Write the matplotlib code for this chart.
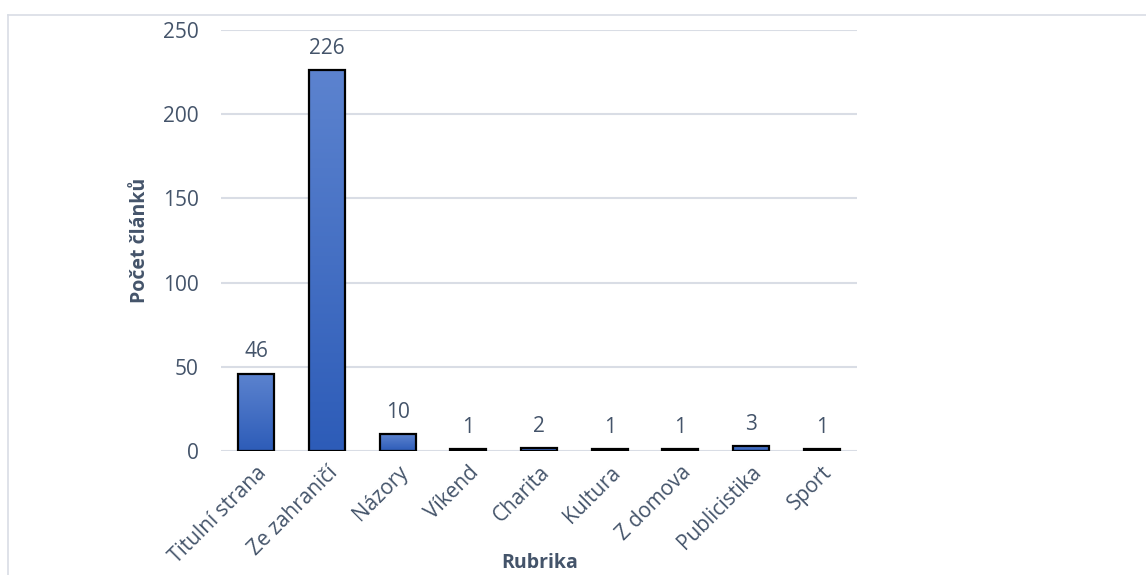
import matplotlib.pyplot as plt
import numpy as np
from matplotlib.colors import LinearSegmentedColormap
from matplotlib.lines import Line2D

# Data
categories = ["Titulní strana", "Ze zahraničí", "Názory", "Víkend", "Charita",
              "Kultura", "Z domova", "Publicistika", "Sport"]
counts = [46, 226, 10, 1, 2, 1, 1, 3, 1]
y_ticks = [0, 50, 100, 150, 200, 250]

plt.rcParams['font.family'] = ['Open Sans', 'DejaVu Sans']
text_col = '#44546A'
grid_col = '#D9DDE5'

W, H = 1146, 575
fig = plt.figure(figsize=(W / 100, H / 100), dpi=100)
ax = fig.add_axes([221 / W, 1 - 451 / H, (857 - 221) / W, (451 - 30) / H])

x = np.arange(len(categories))
bars = ax.bar(x, counts, width=0.51, color='none', edgecolor='black', linewidth=1.6, zorder=3)

# gradient fill for each bar
cmap = LinearSegmentedColormap.from_list('g', ['#2D5CB8', '#5C83CF'])
grad = np.linspace(0, 1, 256).reshape(-1, 1)
for b in bars:
    x0, y0 = b.get_x(), b.get_y()
    w, h = b.get_width(), b.get_height()
    im = ax.imshow(grad, cmap=cmap, origin='lower', aspect='auto',
                   extent=[x0, x0 + w, y0, y0 + h], zorder=2)
    im.set_clip_path(b)

for xi, v in zip(x, counts):
    ax.annotate(str(v), (xi, v), xytext=(0, 8), textcoords='offset points',
                ha='center', va='bottom', fontsize=15, color=text_col)

ax.set_xlim(-0.5, len(categories) - 0.5)
ax.set_ylim(0, 250)
ax.set_yticks(y_ticks)
ax.set_xticks(x)
ax.set_xticklabels(categories, rotation=45, ha='right', rotation_mode='anchor',
                   fontsize=15, color=text_col)
ax.tick_params(axis='y', labelsize=15, labelcolor=text_col, length=0, pad=16)
ax.tick_params(axis='x', length=0, pad=8)
ax.grid(axis='y', color=grid_col, linewidth=1.5, zorder=0)
ax.set_axisbelow(True)
for s in ax.spines.values():
    s.set_visible(False)

fig.text(140 / W, 1 - 240 / H, 'Počet článků', fontsize=14, fontweight='bold',
         color=text_col, ha='center', va='center', rotation=90)
fig.text(540 / W, 1 - 563 / H, 'Rubrika', fontsize=14, fontweight='bold',
         color=text_col, ha='center', va='center')

# outer chart frame (partly outside the image)
fig.add_artist(Line2D([8 / W, 8 / W], [0, 1 - 15 / H], transform=fig.transFigure,
                      color='#D9DDE5', linewidth=1.2))
fig.add_artist(Line2D([8 / W, 1], [1 - 15 / H, 1 - 15 / H], transform=fig.transFigure,
                      color='#D9DDE5', linewidth=1.2))

fig.savefig('out.png', dpi=100)
